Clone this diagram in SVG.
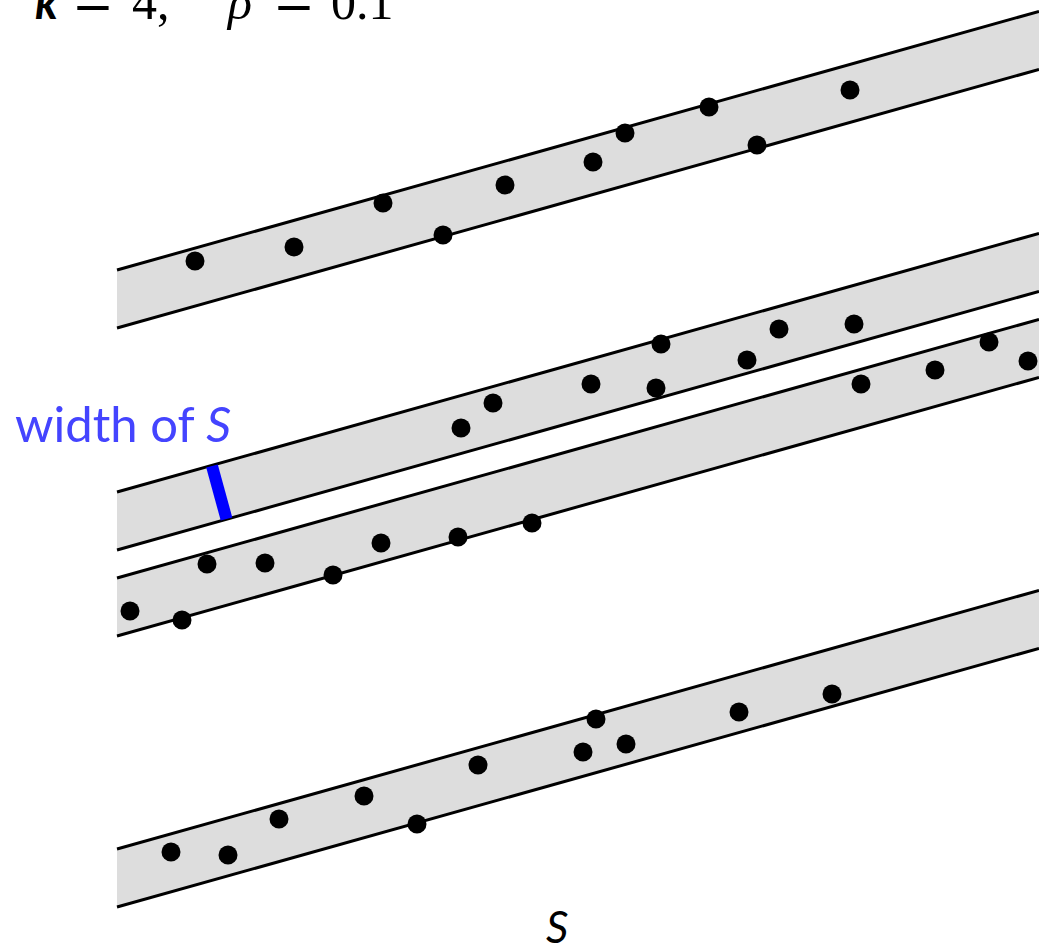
<svg xmlns="http://www.w3.org/2000/svg" width="1039" height="946" viewBox="0 0 1039 946">
<style>
.band{fill:#dddddd;stroke:none}
.edge{stroke:#000;stroke-width:3;fill:none}
.dot{fill:#000}
.math{font-family:"Liberation Serif","DejaVu Serif",serif;font-size:50px;fill:#000}
.eq{font-family:"DejaVu Serif","Liberation Serif",serif;font-size:50px;fill:#000}
.lbl{font-family:Lato,"Liberation Sans",sans-serif;fill:#4444ff;font-size:49px}
</style>
<rect width="1039" height="946" fill="#fff"/>
<g id="title">
<text x="35" y="19" style="font-family:Lato,'Liberation Sans',sans-serif;font-style:italic;font-weight:bold;font-size:46px">k</text>
<text x="72" y="19" class="eq">=</text>
<text x="132" y="19" class="math">4,</text>
<text x="228" y="19" class="math" font-style="italic">ρ</text>
<text x="273" y="19" class="eq">=</text>
<text x="331" y="19" class="math">0.1</text>
</g>
<g id="strip1">
<polygon class="band" points="117,270 1039,11.4 1039,69.4 117,328"/>
<line class="edge" x1="117" y1="270" x2="1039" y2="11.4"/>
<line class="edge" x1="117" y1="328" x2="1039" y2="69.4"/>
</g>
<g id="strip2">
<polygon class="band" points="117,492 1039,233.4 1039,291.4 117,550"/>
<line class="edge" x1="117" y1="492" x2="1039" y2="233.4"/>
<line class="edge" x1="117" y1="550" x2="1039" y2="291.4"/>
</g>
<g id="strip3">
<polygon class="band" points="117,578 1039,319.4 1039,377.4 117,636"/>
<line class="edge" x1="117" y1="578" x2="1039" y2="319.4"/>
<line class="edge" x1="117" y1="636" x2="1039" y2="377.4"/>
</g>
<g id="strip4">
<polygon class="band" points="117,849 1039,590.4 1039,648.4 117,907"/>
<line class="edge" x1="117" y1="849" x2="1039" y2="590.4"/>
<line class="edge" x1="117" y1="907" x2="1039" y2="648.4"/>
</g>
<g id="width-marker">
<line x1="212" y1="466" x2="226.5" y2="519" stroke="#0000ff" stroke-width="12"/>
<text x="15" y="442" class="lbl">width of <tspan font-style="italic">S</tspan></text>
</g>
<g id="dots">
<circle class="dot" cx="195" cy="261" r="9.5"/>
<circle class="dot" cx="294" cy="247" r="9.5"/>
<circle class="dot" cx="383" cy="203" r="9.5"/>
<circle class="dot" cx="443" cy="235" r="9.5"/>
<circle class="dot" cx="505" cy="185" r="9.5"/>
<circle class="dot" cx="593" cy="162" r="9.5"/>
<circle class="dot" cx="625" cy="133" r="9.5"/>
<circle class="dot" cx="709" cy="107" r="9.5"/>
<circle class="dot" cx="757" cy="145" r="9.5"/>
<circle class="dot" cx="850" cy="90" r="9.5"/>
<circle class="dot" cx="461" cy="428" r="9.5"/>
<circle class="dot" cx="493" cy="403" r="9.5"/>
<circle class="dot" cx="591" cy="384" r="9.5"/>
<circle class="dot" cx="656" cy="388" r="9.5"/>
<circle class="dot" cx="661" cy="344" r="9.5"/>
<circle class="dot" cx="747" cy="360" r="9.5"/>
<circle class="dot" cx="779" cy="329" r="9.5"/>
<circle class="dot" cx="854" cy="324" r="9.5"/>
<circle class="dot" cx="130" cy="611" r="9.5"/>
<circle class="dot" cx="182" cy="620" r="9.5"/>
<circle class="dot" cx="207" cy="564" r="9.5"/>
<circle class="dot" cx="265" cy="563" r="9.5"/>
<circle class="dot" cx="333" cy="575" r="9.5"/>
<circle class="dot" cx="381" cy="543" r="9.5"/>
<circle class="dot" cx="458" cy="537" r="9.5"/>
<circle class="dot" cx="532" cy="523" r="9.5"/>
<circle class="dot" cx="861" cy="384" r="9.5"/>
<circle class="dot" cx="935" cy="370" r="9.5"/>
<circle class="dot" cx="989" cy="342" r="9.5"/>
<circle class="dot" cx="1028" cy="361" r="9.5"/>
<circle class="dot" cx="171" cy="852" r="9.5"/>
<circle class="dot" cx="228" cy="855" r="9.5"/>
<circle class="dot" cx="279" cy="819" r="9.5"/>
<circle class="dot" cx="364" cy="796" r="9.5"/>
<circle class="dot" cx="417" cy="824" r="9.5"/>
<circle class="dot" cx="478" cy="765" r="9.5"/>
<circle class="dot" cx="583" cy="752" r="9.5"/>
<circle class="dot" cx="596" cy="719" r="9.5"/>
<circle class="dot" cx="626" cy="744" r="9.5"/>
<circle class="dot" cx="739" cy="712" r="9.5"/>
<circle class="dot" cx="832" cy="694" r="9.5"/>
</g>
<g id="axis-label">
<text x="546" y="943" style="font-family:Lato,'Liberation Sans',sans-serif;font-style:italic;font-size:44px;fill:#000">S</text>
</g>
</svg>
